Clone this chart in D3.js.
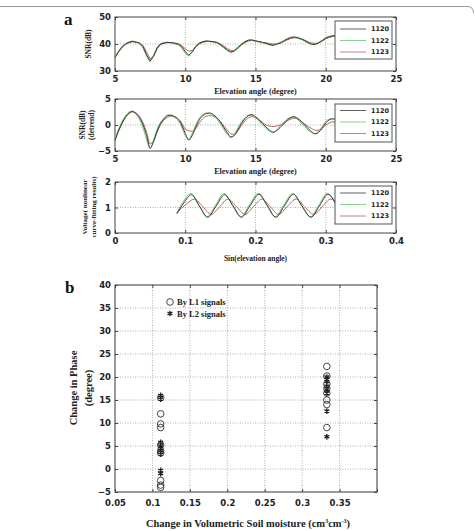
<!DOCTYPE html>
<html><head><meta charset="utf-8">
<script src="https://cdn.jsdelivr.net/npm/d3@7/dist/d3.min.js"></script>
<style>body{margin:0;background:#fff}svg{display:block}</style>
</head><body>
<svg id="c" width="475" height="531"></svg>
<script>
// ---------- DATA ----------
const seriesNames = ["1120", "1122", "1123"];
const elev = [5,5.25,5.5,5.75,6,6.25,6.5,6.75,7,7.25,7.5,7.75,8,8.25,8.5,8.75,9,9.25,9.5,9.75,10,10.25,10.5,10.75,11,11.25,11.5,11.75,12,12.25,12.5,12.75,13,13.25,13.5,13.75,14,14.25,14.5,14.75,15,15.25,15.5,15.75,16,16.25,16.5,16.75,17,17.25,17.5,17.75,18,18.25,18.5,18.75,19,19.25,19.5,19.75,20,20.25,20.5,20.75,21];
const snr1120 = [35.0,37.0,38.8,39.9,40.6,41.0,40.7,40.4,39.0,36.0,33.7,35.5,38.5,40.0,40.4,40.6,40.5,40.3,40.0,39.0,37.2,35.8,37.0,39.0,40.3,40.8,41.1,41.0,40.8,40.6,39.8,38.8,37.8,37.0,37.4,38.6,39.8,40.8,41.4,41.5,41.2,40.9,40.6,40.3,39.8,39.5,39.9,40.3,41.0,41.8,42.4,42.6,42.4,41.9,41.3,40.5,39.9,39.8,40.4,41.2,42.2,42.7,43.0,43.1,43.0];
const snr1122 = [35.3,37.4,39.2,40.2,40.8,41.1,40.6,40.1,38.4,35.4,33.4,35.9,38.9,40.2,40.5,40.7,40.4,40.1,39.7,38.5,36.6,35.5,37.4,39.4,40.5,40.9,41.2,40.9,40.7,40.4,39.5,38.5,37.5,36.9,37.7,39.0,40.1,41.0,41.5,41.4,41.0,40.8,40.5,40.1,39.6,39.5,40.1,40.6,41.3,42.0,42.5,42.5,42.2,41.7,41.0,40.3,39.8,39.9,40.6,41.5,42.4,42.8,43.1,43.0,42.9];
const snr1123 = [35.2,37.2,38.9,40.0,40.5,40.8,40.7,40.3,39.4,37.0,34.5,35.6,38.3,39.8,40.3,40.5,40.5,40.3,40.1,39.4,38.2,37.3,37.6,38.9,40.0,40.6,40.9,41.0,40.9,40.6,40.0,39.2,38.3,37.6,37.6,38.5,39.6,40.5,41.1,41.3,41.1,40.8,40.6,40.4,40.2,40.0,40.1,40.4,40.9,41.5,42.0,42.3,42.2,41.8,41.4,40.8,40.4,40.2,40.5,41.1,41.9,42.4,42.8,42.9,42.9];
const det1120 = [-3.0,-1.2,0.3,1.5,2.3,2.6,2.2,1.4,0.0,-2.0,-4.4,-3.2,-1.2,0.3,1.2,1.8,1.9,1.6,1.1,0.0,-1.6,-2.9,-2.0,-0.4,1.0,1.8,2.2,2.3,2.0,1.4,0.6,-0.5,-1.5,-2.3,-2.0,-0.9,0.3,1.2,1.8,2.0,1.6,1.0,0.3,-0.4,-1.0,-1.4,-1.1,-0.5,0.2,0.9,1.4,1.6,1.3,0.7,0.0,-0.7,-1.3,-1.7,-1.4,-0.6,0.4,1.0,1.2,1.0,0.8];
const det1122 = [-2.6,-0.8,0.7,1.8,2.5,2.7,2.0,1.0,-0.6,-2.8,-4.6,-2.8,-0.8,0.6,1.4,1.9,1.8,1.4,0.8,-0.4,-2.0,-2.7,-1.6,0.0,1.3,2.0,2.3,2.2,1.8,1.1,0.2,-0.9,-1.8,-2.4,-1.7,-0.5,0.6,1.4,1.9,1.9,1.4,0.7,0.0,-0.7,-1.2,-1.4,-0.9,-0.2,0.5,1.1,1.5,1.5,1.1,0.4,-0.3,-1.0,-1.5,-1.7,-1.1,-0.3,0.7,1.1,1.2,0.9,0.7];
const det1123 = [-2.8,-1.0,0.4,1.5,2.2,2.5,2.3,1.6,0.4,-1.4,-3.6,-3.0,-1.3,0.1,1.0,1.5,1.7,1.6,1.2,0.4,-0.8,-1.1,-1.2,-0.7,0.4,1.2,1.7,1.8,1.7,1.3,0.7,-0.2,-1.0,-1.7,-1.8,-1.1,-0.1,0.8,1.4,1.6,1.4,1.0,0.5,0.0,-0.2,-0.3,-0.2,0.0,0.3,0.8,1.1,1.3,1.1,0.7,0.2,-0.3,-0.7,-1.0,-1.0,-0.6,0.0,0.4,0.6,0.6,0.5];
// curve-fitting results (Sin(elevation) vs voltage)
const sin1120 = [0.088,0.098,0.109,0.120,0.132,0.144,0.156,0.168,0.180,0.192,0.205,0.217,0.229,0.241,0.254,0.266,0.279,0.291,0.303,0.316];
const v1120   = [0.75,1.18,1.50,1.07,0.62,1.06,1.50,1.07,0.62,1.06,1.52,1.07,0.62,1.06,1.52,1.07,0.62,1.06,1.52,1.05];
const sin1122 = [0.088,0.097,0.108,0.119,0.131,0.143,0.155,0.167,0.179,0.191,0.204,0.216,0.228,0.240,0.253,0.265,0.278,0.290,0.302,0.316];
const v1122   = [0.80,1.22,1.55,1.09,0.63,1.09,1.55,1.09,0.63,1.09,1.55,1.09,0.63,1.09,1.55,1.09,0.63,1.09,1.55,1.00];
const sin1123 = [0.088,0.101,0.113,0.125,0.137,0.149,0.161,0.173,0.185,0.197,0.209,0.221,0.233,0.245,0.258,0.270,0.283,0.295,0.307,0.316];
const v1123   = [0.80,1.12,1.33,1.03,0.73,1.03,1.33,1.03,0.73,1.03,1.33,1.03,0.73,1.03,1.33,1.03,0.73,1.03,1.33,1.20];
// panel b
const moistureL1 = [0.111,0.111,0.111,0.111,0.111,0.111,0.111,0.111,0.111,0.111, 0.333,0.333,0.333,0.333,0.333,0.333,0.333,0.333];
const phaseL1    = [15.5,12.0,9.8,9.0,5.2,4.0,3.5,-2.5,-3.5,-4.0, 22.3,20.2,18.5,17.5,16.5,15.0,14.0,9.0];
const moistureL2 = [0.111,0.111,0.111,0.111,0.111,0.111,0.111,0.111, 0.333,0.333,0.333,0.333,0.333,0.333,0.333];
const phaseL2    = [16.0,15.2,5.8,5.0,4.0,3.2,-0.3,-1.0, 20.0,19.0,18.0,17.2,16.5,12.6,7.0];
const legendB = ["By L1 signals", "By L2 signals"];
const ticksA1x = [5,10,15,20,25], ticksA1y = [30,40,50];
const ticksA2y = [-5,0,5];
const ticksA3x = [0,0.1,0.2,0.3,0.4], ticksA3y = [0,1,2];
const ticksBx = [0.05,0.1,0.15,0.2,0.25,0.3,0.35,0.4], ticksBy = [-5,0,5,10,15,20,25,30,35,40];

// ---------- DRAW ----------
const svg = d3.select("#c");
const colors = ["#3a3a3a", "#6cc96c", "#b86464"];
const tickFont = "'DejaVu Sans', sans-serif";
const serif = "'Liberation Serif', 'Times New Roman', serif";

// top frame line
svg.append("path").attr("d", "M0,6.5 L467,6.5 Q473.5,6.5 473.5,13").attr("fill","none").attr("stroke","#9a9a9a").attr("stroke-width",1);

function panel(o) {
  const g = svg.append("g");
  const x = d3.scaleLinear().domain(o.xd).range([o.x0, o.x1]);
  const y = d3.scaleLinear().domain(o.yd).range([o.y1, o.y0]);
  // grid
  o.gx.forEach(v => g.append("line").attr("x1", x(v)).attr("x2", x(v)).attr("y1", o.y0).attr("y2", o.y1)
    .attr("stroke", "#9a9a9a").attr("stroke-width", 0.8).attr("stroke-dasharray", "1,1.5"));
  o.gy.forEach(v => g.append("line").attr("x1", o.x0).attr("x2", o.x1).attr("y1", y(v)).attr("y2", y(v))
    .attr("stroke", "#9a9a9a").attr("stroke-width", 0.8).attr("stroke-dasharray", "1,1.5"));
  // axes
  const ax = g.append("g").attr("transform", `translate(0,${o.y1})`)
    .call(d3.axisBottom(x).tickValues(o.tx).tickSize(-3).tickPadding(o.xpad || 5).tickFormat(o.fx || d3.format("")));
  const ay = g.append("g").attr("transform", `translate(${o.x0},0)`)
    .call(d3.axisLeft(y).tickValues(o.ty).tickSize(-3).tickPadding(4).tickFormat(d3.format("")));
  g.append("g").attr("transform", `translate(0,${o.y0})`).call(d3.axisTop(x).tickValues(o.tx).tickSize(-3).tickFormat(""));
  g.append("g").attr("transform", `translate(${o.x1},0)`).call(d3.axisRight(y).tickValues(o.ty).tickSize(-3).tickFormat(""));
  g.selectAll(".domain").remove();
  g.selectAll(".tick line").attr("stroke", "#444");
  [ax, ay].forEach(a => a.selectAll("text").attr("font-family", tickFont).attr("font-weight", "bold")
    .attr("font-size", o.tfs || 8.5).attr("fill", "#222"));
  if (o.hideX) ax.selectAll(".tick text").filter(d => o.hideX.includes(d)).remove();
  g.append("rect").attr("x", o.x0).attr("y", o.y0).attr("width", o.x1 - o.x0).attr("height", o.y1 - o.y0)
    .attr("fill", "none").attr("stroke", "#444").attr("stroke-width", 1);
  return { g, x, y };
}

function legendA(g, x0, y0, rowY) {
  g.append("rect").attr("x", x0).attr("y", y0).attr("width", 57).attr("height", 38)
    .attr("fill", "#fff").attr("stroke", "#555").attr("stroke-width", 1);
  seriesNames.forEach((n, i) => {
    g.append("line").attr("x1", x0 + 5).attr("x2", x0 + 31).attr("y1", rowY[i]).attr("y2", rowY[i])
      .attr("stroke", colors[i]).attr("stroke-width", 1).attr("opacity", 0.8);
    g.append("text").attr("x", x0 + 36).attr("y", rowY[i] + 2.3).text(n)
      .attr("font-family", tickFont).attr("font-weight", "bold").attr("font-size", 6.5).attr("fill", "#222");
  });
}

function titleX(text, cx, yb, fs) {
  svg.append("text").attr("x", cx).attr("y", yb).attr("text-anchor", "middle").text(text)
    .attr("font-family", serif).attr("font-weight", "bold").attr("font-size", fs).attr("fill", "#222");
}
function titleY(lines, xs, cy, fs) {
  lines.forEach((t, i) => svg.append("text").attr("transform", `translate(${xs[i]},${cy}) rotate(-90)`)
    .attr("text-anchor", "middle").attr("dominant-baseline", "central").text(t)
    .attr("font-family", serif).attr("font-weight", "bold").attr("font-size", fs).attr("fill", "#222"));
}

// Panel a1
const p1 = panel({ xd: [5, 25], yd: [30, 50], x0: 115, x1: 396, y0: 17, y1: 71, tx: ticksA1x, ty: ticksA1y, gx: [10, 15, 20], gy: [40] });
const l1 = d3.line().x(d => p1.x(d[0])).y(d => p1.y(d[1]));
[snr1123, snr1122, snr1120].forEach((s, k) => {
  const i = 2 - k;
  p1.g.append("path").attr("d", l1(elev.map((e, j) => [e, s[j]]))).attr("fill", "none").attr("stroke", colors[i]).attr("stroke-width", 1);
});
legendA(p1.g, 335, 21, [29, 40.5, 52]);
titleX("Elevation angle (degree)", 255.5, 94, 8);
titleY(["SNR(dB)"], [88], 44, 7.5);

// Panel a2
const p2 = panel({ xd: [5, 25], yd: [-5, 5], x0: 115, x1: 396, y0: 99, y1: 151, tx: ticksA1x, ty: ticksA2y, gx: [10, 15, 20], gy: [0] });
const l2 = d3.line().x(d => p2.x(d[0])).y(d => p2.y(d[1])).curve(d3.curveMonotoneX);
[det1123, det1122, det1120].forEach((s, k) => {
  const i = 2 - k;
  p2.g.append("path").attr("d", l2(elev.map((e, j) => [e, s[j]]))).attr("fill", "none").attr("stroke", colors[i]).attr("stroke-width", 1);
});
legendA(p2.g, 335, 104, [110.5, 122, 133.5]);
titleX("Elevation angle (degree)", 255.5, 174, 8);
titleY(["SNR(dB)", "(detrend)"], [82, 91.5], 125, 7.5);

// Panel a3
const p3 = panel({ xd: [0, 0.4], yd: [0, 2], x0: 115, x1: 396, y0: 182, y1: 233, tx: ticksA3x, ty: ticksA3y, gx: [0.1, 0.2, 0.3], gy: [1], fx: d3.format("") });
const l3 = d3.line().x(d => p3.x(d[0])).y(d => p3.y(d[1])).curve(d3.curveMonotoneX);
[[sin1123, v1123], [sin1122, v1122], [sin1120, v1120]].forEach((s, k) => {
  const i = 2 - k;
  p3.g.append("path").attr("d", l3(s[0].map((e, j) => [e, s[1][j]]))).attr("fill", "none").attr("stroke", colors[i]).attr("stroke-width", 1);
});
legendA(p3.g, 335, 186, [193, 204.5, 216]);
titleX("Sin(elevation angle)", 255.5, 261, 7.5);
titleY(["Voltage( nonlinear", "curve-fitting results)"], [84.5, 93.5], 207, 7);

// Panel b
const pb = panel({ xd: [0.05, 0.4], yd: [-5, 40], x0: 115, x1: 377, y0: 285, y1: 492, tx: ticksBx, ty: ticksBy, gx: ticksBx, gy: ticksBy, fx: d3.format(""), tfs: 8.5, hideX: [0.4], xpad: 7.5 });
pb.g.selectAll("circle.l1").data(moistureL1.map((m, i) => [m, phaseL1[i]])).enter().append("circle")
  .attr("cx", d => pb.x(d[0])).attr("cy", d => pb.y(d[1])).attr("r", 3.3)
  .attr("fill", "none").attr("stroke", "#333").attr("stroke-width", 0.9);
const star = d3.symbol().type(d3.symbolAsterisk).size(22);
pb.g.selectAll("path.l2").data(moistureL2.map((m, i) => [m, phaseL2[i]])).enter().append("path")
  .attr("d", star).attr("transform", d => `translate(${pb.x(d[0])},${pb.y(d[1])})`)
  .attr("fill", "none").attr("stroke", "#222").attr("stroke-width", 1.3);
// legend b
pb.g.append("circle").attr("cx", 170).attr("cy", 302).attr("r", 3.3).attr("fill", "none").attr("stroke", "#333").attr("stroke-width", 0.9);
pb.g.append("path").attr("d", star).attr("transform", "translate(170,313.5)").attr("fill", "none").attr("stroke", "#222").attr("stroke-width", 1.3);
legendB.forEach((t, i) => pb.g.append("text").attr("x", 177).attr("y", 305 + i * 11.5).text(t)
  .attr("font-family", serif).attr("font-weight", "bold").attr("font-size", 8.5).attr("fill", "#222"));
titleY(["Change in Phase", "(degree)"], [73, 88], 388, 10.5);
const xt = svg.append("text").attr("x", 248).attr("y", 527).attr("text-anchor", "middle")
  .attr("font-family", serif).attr("font-weight", "bold").attr("font-size", 10.5).attr("fill", "#222");
xt.append("tspan").text("Change in Volumetric Soil moisture (cm");
xt.append("tspan").text("3").attr("font-size", 6).attr("dy", -4);
xt.append("tspan").text("cm").attr("dy", 4);
xt.append("tspan").text("-3").attr("font-size", 6).attr("dy", -4);
xt.append("tspan").text(")").attr("dy", 4);

// panel letters
svg.append("text").attr("x", 64).attr("y", 25).text("a").attr("font-family", serif).attr("font-weight", "bold").attr("font-size", 17).attr("fill", "#111");
svg.append("text").attr("x", 65).attr("y", 293).text("b").attr("font-family", serif).attr("font-weight", "bold").attr("font-size", 17).attr("fill", "#111");
</script>
</body></html>
